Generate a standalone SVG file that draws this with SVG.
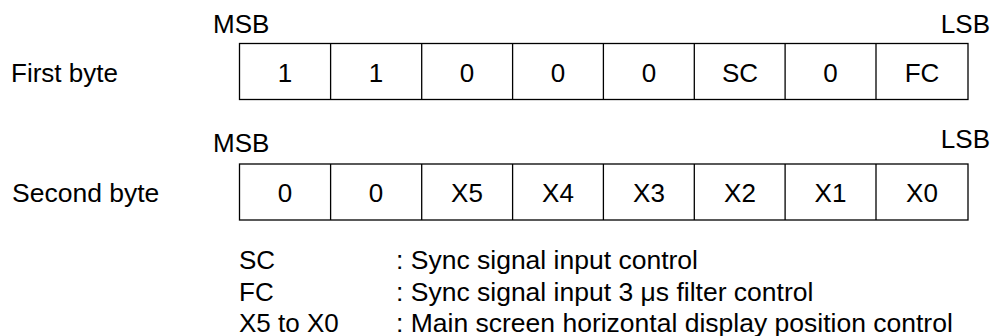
<svg xmlns="http://www.w3.org/2000/svg" width="996" height="336" viewBox="0 0 996 336">
<style>
text{font-family:"Liberation Sans",Arial,sans-serif;font-size:26px;fill:#000}
.c{text-anchor:middle}
.e{text-anchor:end}
.d{font-size:26.5px}
.box{fill:#fff;stroke:#000;stroke-width:1.3}
.div{stroke:#000;stroke-width:1.3}
</style>
<rect width="996" height="336" fill="#fff"/>
<g id="byte1">
<text x="213" y="33">MSB</text>
<text class="e" x="990" y="33">LSB</text>
<text x="11" y="82">First byte</text>
<rect class="box" x="239.5" y="43.5" width="728.5" height="56"/>
<g class="div">
<line x1="330.6" y1="43.5" x2="330.6" y2="99.5"/>
<line x1="421.7" y1="43.5" x2="421.7" y2="99.5"/>
<line x1="512.6" y1="43.5" x2="512.6" y2="99.5"/>
<line x1="603.4" y1="43.5" x2="603.4" y2="99.5"/>
<line x1="694.3" y1="43.5" x2="694.3" y2="99.5"/>
<line x1="785.1" y1="43.5" x2="785.1" y2="99.5"/>
<line x1="876" y1="43.5" x2="876" y2="99.5"/>
</g>
<text class="c" x="285" y="82">1</text>
<text class="c" x="376" y="82">1</text>
<text class="c" x="467" y="82">0</text>
<text class="c" x="558" y="82">0</text>
<text class="c" x="649" y="82">0</text>
<text class="c" x="740" y="82">SC</text>
<text class="c" x="830.5" y="82">0</text>
<text class="c" x="922" y="82">FC</text>
</g>
<g id="byte2">
<text x="213" y="152">MSB</text>
<text class="e" x="990" y="148">LSB</text>
<text x="12" y="202" style="font-size:26.5px">Second byte</text>
<rect class="box" x="239.5" y="164" width="728.5" height="56"/>
<g class="div">
<line x1="330.6" y1="164" x2="330.6" y2="220"/>
<line x1="421.7" y1="164" x2="421.7" y2="220"/>
<line x1="512.6" y1="164" x2="512.6" y2="220"/>
<line x1="603.4" y1="164" x2="603.4" y2="220"/>
<line x1="694.3" y1="164" x2="694.3" y2="220"/>
<line x1="785.1" y1="164" x2="785.1" y2="220"/>
<line x1="876" y1="164" x2="876" y2="220"/>
</g>
<text class="c" x="285" y="202">0</text>
<text class="c" x="376" y="202">0</text>
<text class="c" x="467" y="202">X5</text>
<text class="c" x="558" y="202">X4</text>
<text class="c" x="649" y="202">X3</text>
<text class="c" x="740" y="202">X2</text>
<text class="c" x="830.5" y="202">X1</text>
<text class="c" x="922" y="202">X0</text>
</g>
<g id="legend">
<text x="239" y="269">SC</text>
<text class="d" x="396" y="269">: Sync signal input control</text>
<text x="239" y="301">FC</text>
<text class="d" x="396" y="301">: Sync signal input 3 μs filter control</text>
<text x="239" y="332">X5 to X0</text>
<text class="d" x="396" y="332">: Main screen horizontal display position control</text>
</g>
<g id="connectors"/>
</svg>
